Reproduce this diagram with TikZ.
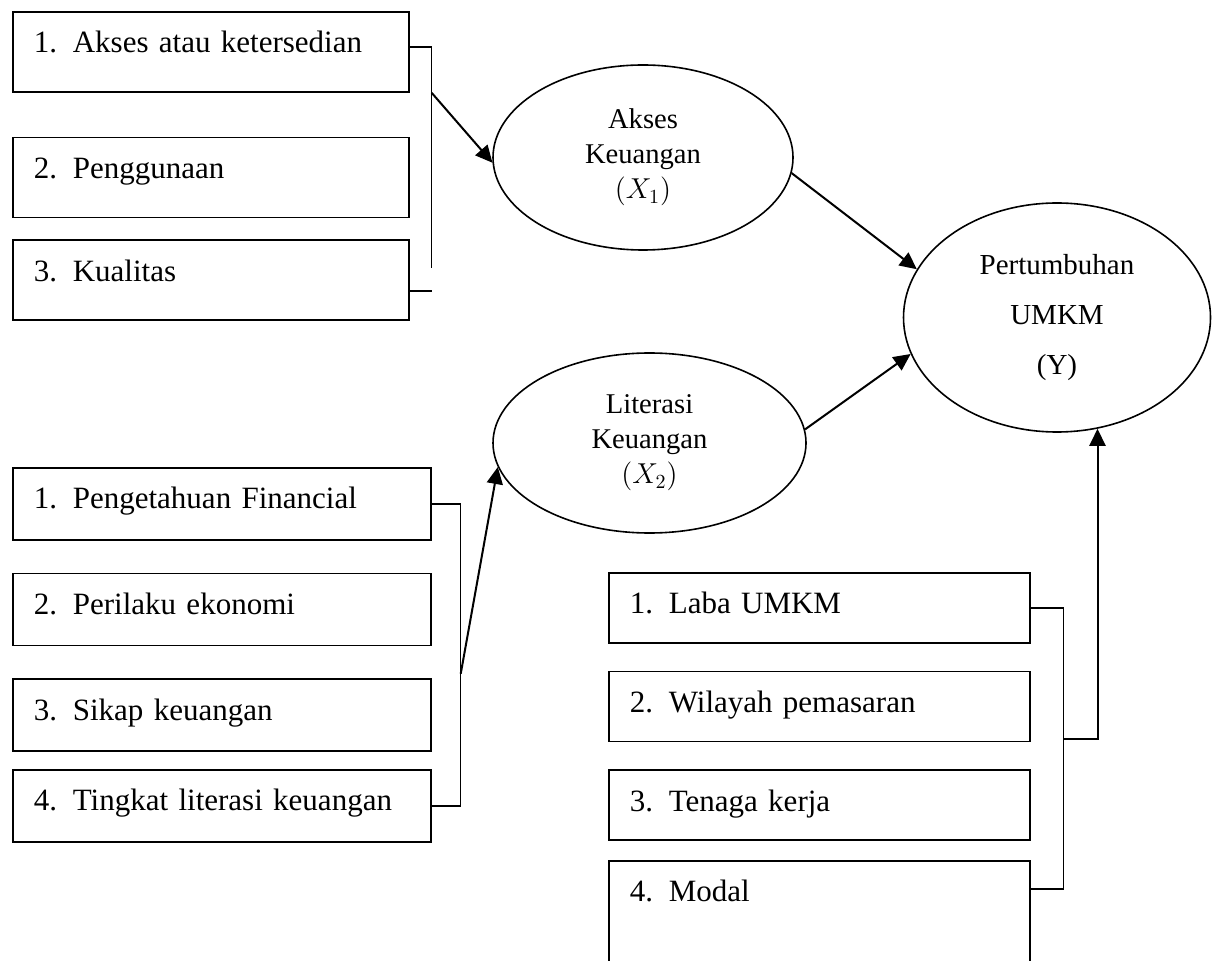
\documentclass[tikz,border=0pt]{standalone}
\usepackage{fontspec}
\setmainfont{Liberation Serif}
\usetikzlibrary{positioning,arrows.meta,calc,shapes.geometric}
\newcommand{\itm}[2]{\makebox[19.5pt][l]{#1.}#2}

\begin{document}
\begin{tikzpicture}[
  x=0.5pt, y=-0.5pt,
  ind/.style={draw, line width=0.85pt, inner xsep=10.5pt, inner ysep=0pt, align=left,
              text height=10.5pt, font=\fontsize{15.5}{19}\selectfont},
  indA/.style={ind, text width=177pt, minimum height=40pt, text depth=9.5pt},
  indB/.style={ind, text width=188pt, minimum height=36pt, text depth=5.5pt},
  indC/.style={ind, text width=189.5pt, minimum height=35pt, text depth=4.5pt},
  var/.style={ellipse, draw, line width=0.8pt, inner sep=0pt, align=center,
              font=\fontsize{14.3}{17.5}\selectfont},
  link/.style={line width=0.75pt},
  arr/.style={-{Triangle[length=8.5pt,width=8pt]}, line width=1pt}
]
\useasboundingbox (0,0) rectangle (1218,961);
\clip (0,0) rectangle (1218,961);

% --- latent variables ---
\node[var, minimum width=150pt, minimum height=92.5pt] (akses) at (643,157.5)
  {Akses\\Keuangan\\$(X_1)$};
\node[var, minimum width=156.5pt, minimum height=90pt] (lit) at (649.5,443)
  {Literasi\\Keuangan\\$(X_2)$};
\node[var, minimum width=153.5pt, minimum height=114.5pt,
      font=\fontsize{14.5}{25}\selectfont] (pert) at (1057,317.5)
  {Pertumbuhan\\UMKM\\(Y)};

% --- indicators of X1 ---
\node[indA, anchor=north west] (a1) at (12,11) {\itm{1}{Akses atau ketersedian}};
\node[indA, below=22pt of a1] (a2) {\itm{2}{Penggunaan}};
\node[indA, below=10.5pt of a2] (a3) {\itm{3}{Kualitas}};

% --- indicators of X2 ---
\node[indB, anchor=north west] (b1) at (12,467) {\itm{1}{Pengetahuan Financial}};
\node[indB, below=16pt of b1] (b2) {\itm{2}{Perilaku ekonomi}};
\node[indB, below=16pt of b2] (b3) {\itm{3}{Sikap keuangan}};
\node[indB, below=8.5pt of b3] (b4) {\itm{4}{Tingkat literasi keuangan}};

% --- indicators of Y ---
\node[indC, anchor=north west] (c1) at (608,572) {\itm{1}{Laba UMKM}};
\node[indC, below=13.5pt of c1] (c2) {\itm{2}{Wilayah pemasaran}};
\node[indC, below=13.5pt of c2] (c3) {\itm{3}{Tenaga kerja}};
\node[indC, below=9.5pt of c3, minimum height=55pt, text depth=24.5pt] (c4) {\itm{4}{Modal}};

% --- brackets ---
\coordinate (ja) at ($(a1.east)+(22,-5)$);
\draw[link] ($(a1.east)+(0,-5)$) -- (ja) -- ++(0,221);
\draw[link] ($(a3.east)+(0,11)$) -- ++(22,0);
\draw[arr] ($(ja)+(0,46)$) -- (akses.182);

\coordinate (jb) at ($(b1.east)+(29,0)$);
\draw[link] (b1.east) -- (jb) |- (b4.east);
\draw[arr] ($(jb)+(0,170)$) -- (lit.189);

\coordinate (jc) at ($(c1.east)+(33,0)$);
\draw[link] (c1.east) -- (jc) |- ($(c4.north east)+(0,29)$);
\draw[arr] ($(jc)+(0,131)$) -| (pert.-70);

% --- paths between variables ---
\draw[arr] (akses.-6) -- (pert.161);
\draw[arr] (lit.5) -- (pert.194);

\end{tikzpicture}
\end{document}
